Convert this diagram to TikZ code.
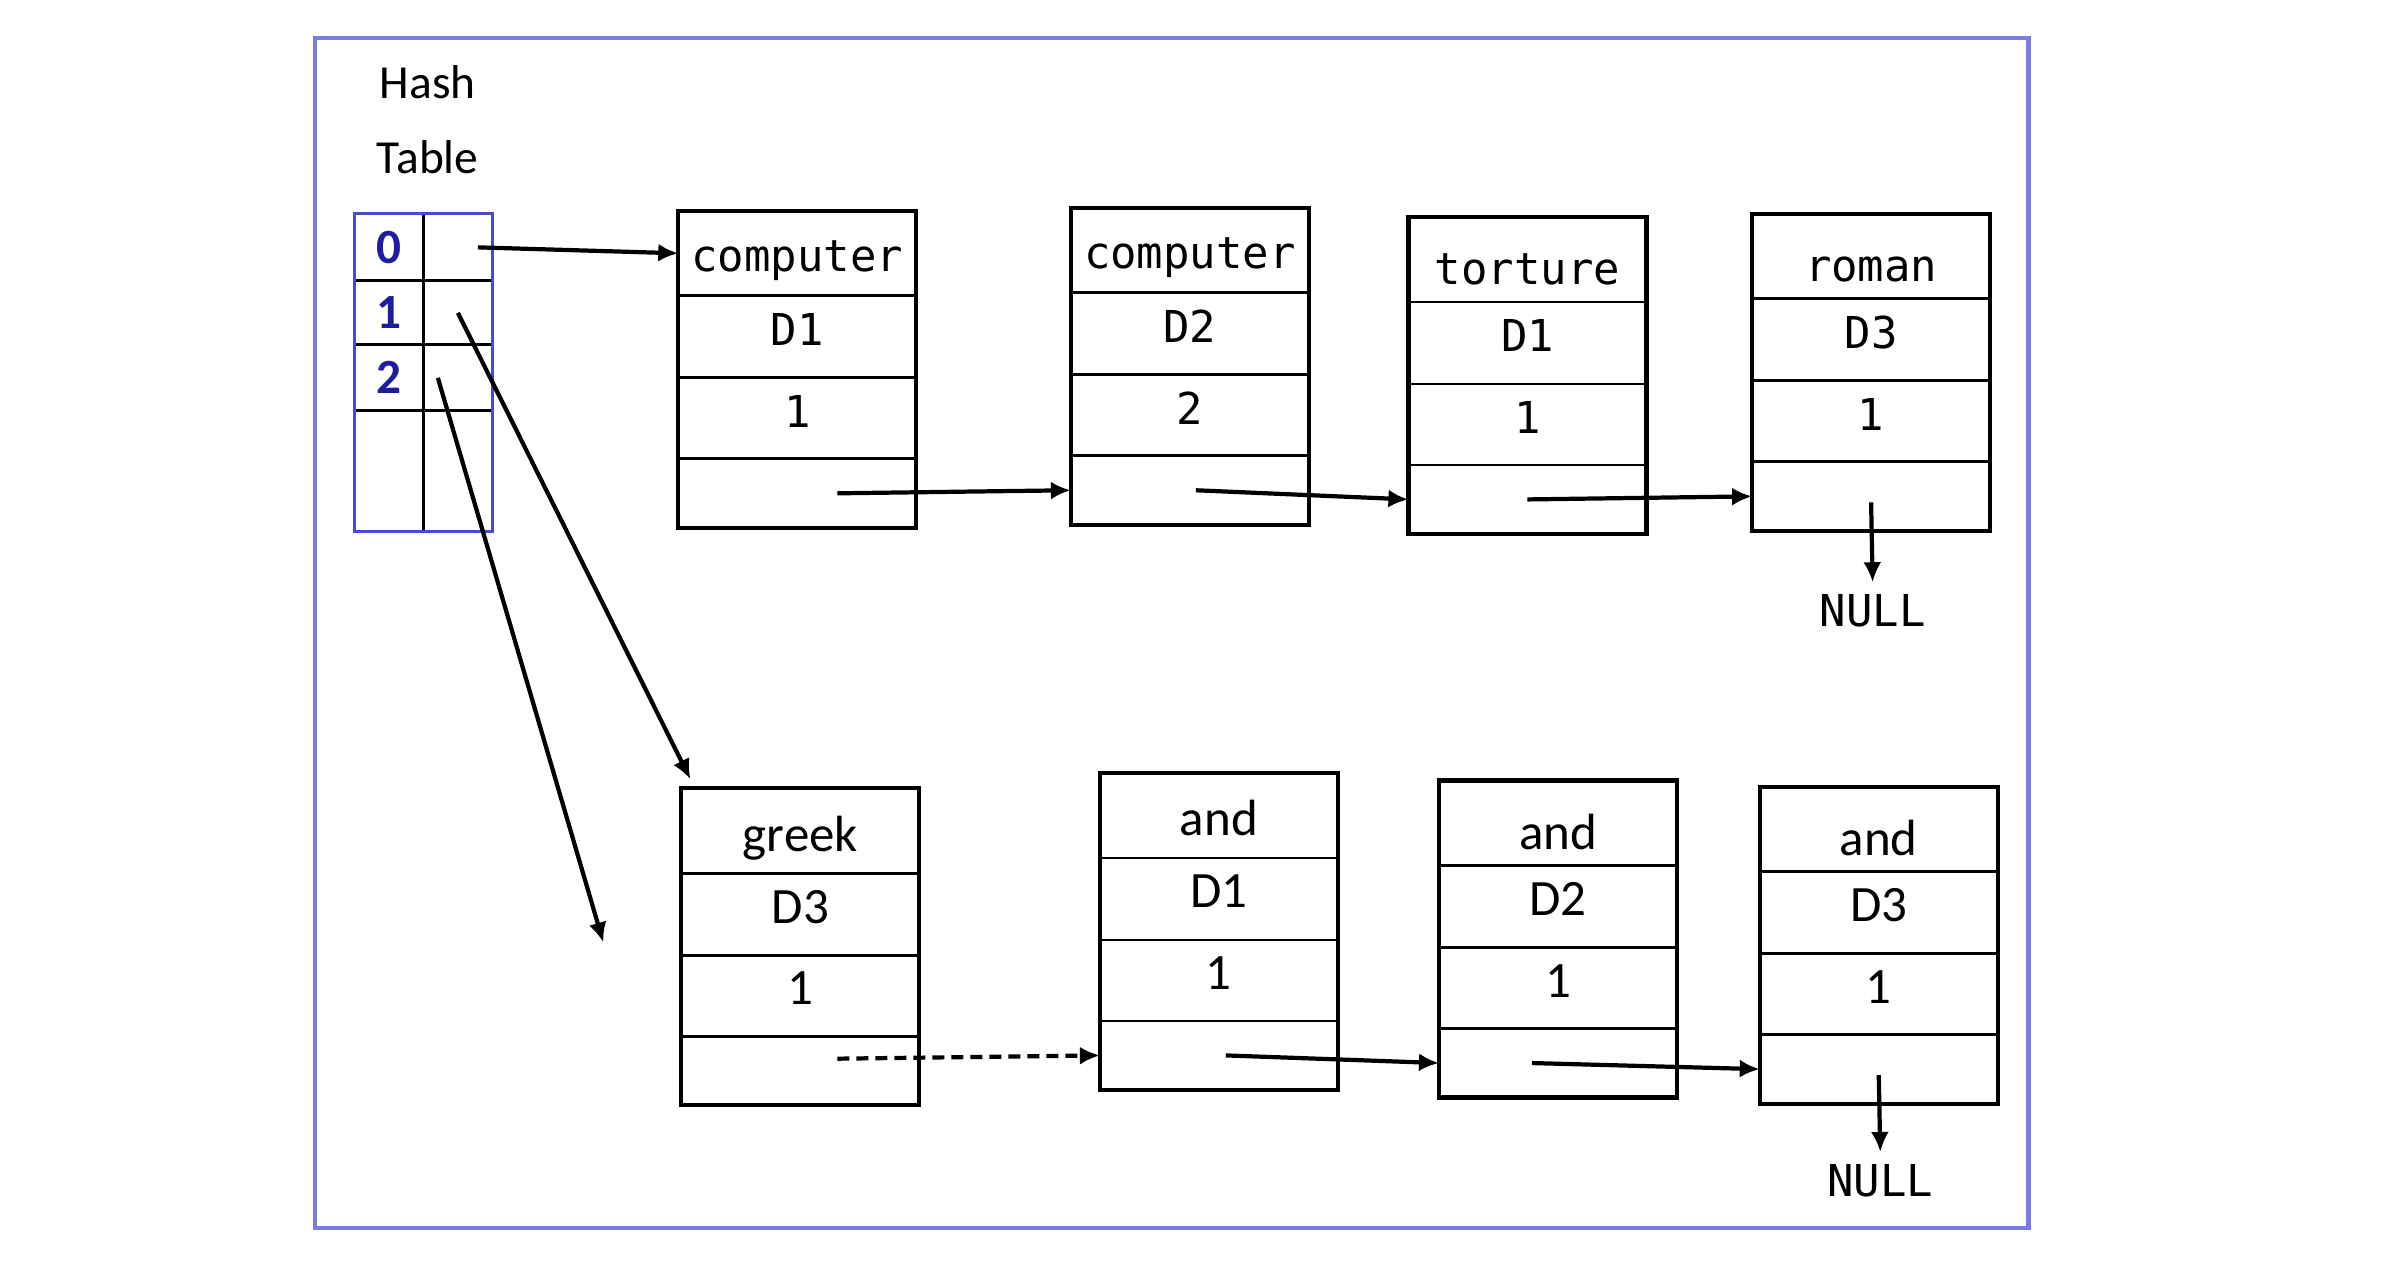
\documentclass[tikz,border=0pt]{standalone}
\usepackage{fontspec}
\setmainfont{Carlito}
\newfontfamily\monofont{DejaVu Sans Mono}
\usetikzlibrary{arrows.meta,positioning}
\definecolor{FrameBlue}{HTML}{7B7BE6}
\definecolor{TableBlue}{HTML}{4A4ACF}
\definecolor{IndexBlue}{HTML}{1E1E9C}

\begin{document}
\begin{tikzpicture}[x=0.15274mm, y=-0.15274mm,
  cell/.style={draw=black, line width=0.8pt, minimum width=23.8mm,
               inner sep=0pt, outer sep=0pt, text height=2.5mm, text depth=0.7mm},
  wordcell/.style={cell, minimum height=8.5mm, anchor=north},
  doccell/.style={cell, minimum height=8.2mm},
  countcell/.style={cell, minimum height=8.1mm},
  ptrcell/.style={cell, minimum height=6.9mm},
  record/.style={draw=black, line width=1.2pt},
  monotext/.style={font=\monofont\fontsize{12.5}{15}\selectfont},
  sanstext/.style={font=\fontsize{14.5}{17}\selectfont},
  slot/.style={draw=black, line width=0.8pt, minimum width=6.9mm, inner sep=0pt,
               outer sep=0pt, font=\bfseries\fontsize{14}{16}\selectfont, text=IndexBlue},
  link/.style={-{Latex[length=2mm, width=1.8mm]}, line width=1.2pt, draw=black}
]
\useasboundingbox (0,0) rectangle (1568,839);
\draw[FrameBlue, line width=1.2pt] (206,25) rectangle (1328,804);

% hash table
\node[font=\fontsize{13.5}{16}\selectfont] (hash) at (280,54) {Hash};
\node[font=\fontsize{13.5}{16}\selectfont] (table) at (280,103) {Table};
\node[slot, minimum height=6.7mm, anchor=north west] (i0) at (232,140) {0};
\node[slot, minimum height=6.4mm, below=0pt of i0] (i1) {1};
\node[slot, minimum height=6.6mm, below=0pt of i1] (i2) {2};
\node[slot, minimum height=12.1mm, below=0pt of i2] (i3) {};
\node[slot, minimum height=6.7mm, right=0pt of i0] (p0) {};
\node[slot, minimum height=6.4mm, right=0pt of i1] (p1) {};
\node[slot, minimum height=6.6mm, right=0pt of i2] (p2) {};
\node[slot, minimum height=12.1mm, right=0pt of i3] (p3) {};
\draw[TableBlue, line width=0.9pt] (i0.north west) rectangle (p3.south east);

% first chain
\foreach \n/\x/\y/\s/\w/\d/\c in {c1/522/138/4.3/computer/D1/1, c2/779/136/4.3/computer/D2/2,
                                  c3/1000/142/5.7/torture/D1/1, c4/1225/140/5.7/roman/D3/1}
{
  \node[wordcell, monotext, text height=\s mm] (\n-w) at (\x,\y) {\w};
  \node[doccell, monotext, below=0pt of \n-w] (\n-d) {\d};
  \node[countcell, monotext, below=0pt of \n-d] (\n-c) {\c};
  \node[ptrcell, below=0pt of \n-c] (\n-p) {};
  \draw[record] (\n-w.north west) rectangle (\n-p.south east);
}

% second chain
\foreach \n/\x/\y/\s/\w/\d/\c in {b1/524/516/4.8/greek/D3/1, b2/798/506/4.8/and/D1/1,
                                  b3/1020/511/5.9/and/D2/1, b4/1230/515/5.9/and/D3/1}
{
  \node[wordcell, sanstext, text height=\s mm] (\n-w) at (\x,\y) {\w};
  \node[doccell, sanstext, below=0pt of \n-w] (\n-d) {\d};
  \node[countcell, sanstext, below=0pt of \n-d] (\n-c) {\c};
  \node[ptrcell, below=0pt of \n-c] (\n-p) {};
  \draw[record] (\n-w.north west) rectangle (\n-p.south east);
}

\node[monotext] (null1) at (1226,400) {NULL};
\node[monotext] (null2) at (1231,773) {NULL};
\coordinate (slot2end) at (395,617);

\draw[link] ([xshift=2mm]p0.center) -- (c1-w.west);
\draw[link] (p1.center) -- ([shift={(0.9mm,0.9mm)}]b1-w.north west);
\draw[link] ([xshift=-2mm]p2.center) -- (slot2end);

\draw[link] ([xshift=4mm]c1-p.center) -- (c2-p.west);
\draw[link] ([xshift=0.6mm]c2-p.center) -- (c3-p.west);
\draw[link] (c3-p.center) -- (c4-p.west);
\draw[link] ([yshift=-0.6mm]c4-p.center) -- (null1.north);

\draw[link, dash pattern=on 1.2mm off 0.7mm] ([xshift=3.7mm, yshift=1.2mm]b1-p.center) -- (b2-p.west);
\draw[link] ([xshift=0.7mm]b2-p.center) -- (b3-p.west);
\draw[link] ([xshift=-2.6mm]b3-p.center) -- (b4-p.west);
\draw[link] ([yshift=-0.6mm]b4-p.center) -- (null2.north);
\end{tikzpicture}
\end{document}
